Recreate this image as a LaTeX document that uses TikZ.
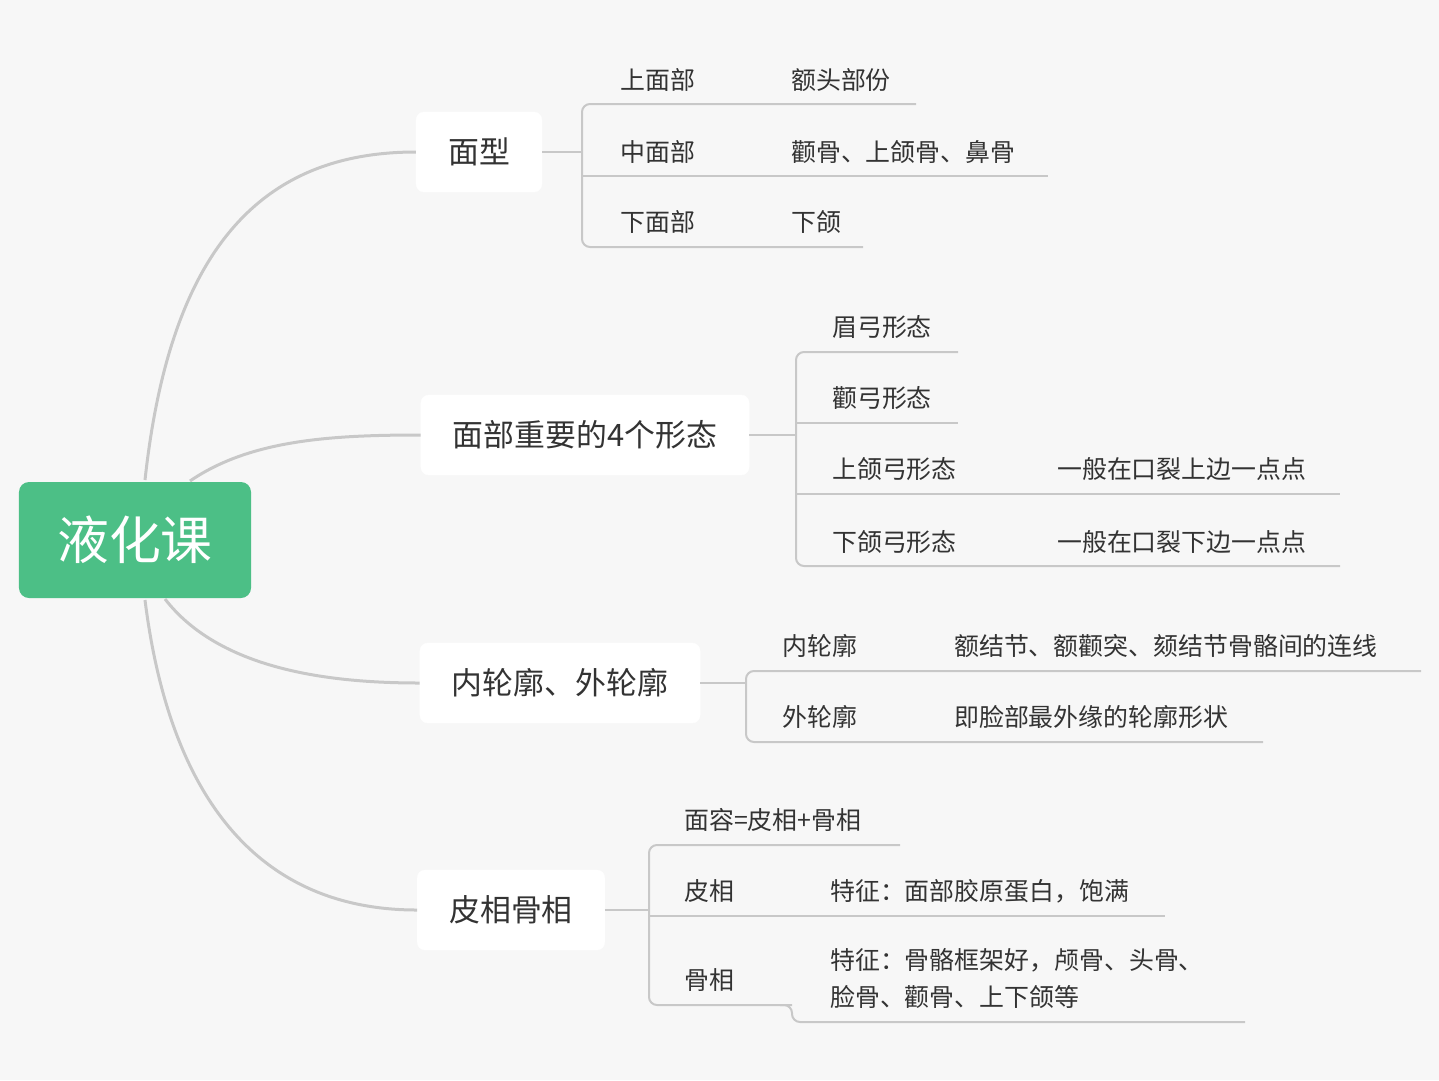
\documentclass[tikz,border=0pt]{standalone}
\usepackage{fontspec}
\newfontfamily\cjk{Noto Sans CJK SC}
\definecolor{bg}{HTML}{F7F7F7}
\definecolor{ln}{HTML}{C8C8C8}
\definecolor{tx}{HTML}{333333}
\definecolor{gr}{HTML}{4CBF86}
\begin{document}
\begin{tikzpicture}[x=1bp,y=-1bp,
  lone/.style={draw=white,fill=white,rounded corners=8bp,minimum height=80bp,inner xsep=32bp,font=\cjk\fontsize{31}{36}\selectfont,text=tx},
  lt/.style={anchor=west,inner sep=0,font=\cjk\fontsize{25}{36}\selectfont,text=tx},
  br/.style={draw=ln,line width=2bp,rounded corners=8bp},
  cv/.style={draw=ln,line width=3bp}]
\fill[bg] (0,0) rectangle (1439,1080);
\node[fill=gr,rounded corners=10bp,minimum width=232bp,minimum height=116bp,text=white,font=\cjk\fontsize{52}{60}\selectfont] (root) at (135,540) {液化课};
\node[lone] (a) at (479,152) {面型};
\node[lone] (b) at (585,435) {面部重要的4个形态};
\node[lone] (c) at (560,683) {内轮廓、外轮廓};
\node[lone] (d) at (511,910) {皮相骨相};
% curves
\draw[cv] (145,480) .. controls (170,250) and (260,152) .. (a.west);
\draw[cv] (190,481) .. controls (250,440) and (330,435) .. (b.west);
\draw[cv] (165,599) .. controls (220,670) and (330,683) .. (c.west);
\draw[cv] (145,600) .. controls (170,800) and (260,910) .. (d.west);
% group 1
\draw[br] (a.east) -- (582,152);
\draw[br] (916,104) -- (582,104) -- (582,247) -- (863,247);
\draw[br] (582,176) -- (1048,176);
\node[lt] (a1) at (620,80) {上面部}; \node[lt] (a1b) at (791,80) {额头部份};
\node[lt] (a2) at (620,152) {中面部}; \node[lt] (a2b) at (791,152) {颧骨、上颌骨、鼻骨};
\node[lt] (a3) at (620,222) {下面部}; \node[lt] (a3b) at (791,222) {下颌};
% group 2
\draw[br] (b.east) -- (796,435);
\draw[br] (958,352) -- (796,352) -- (796,566) -- (1340,566);
\draw[br] (796,423) -- (958,423);
\draw[br] (796,494) -- (1340,494);
\node[lt] (b1) at (832,327) {眉弓形态};
\node[lt] (b2) at (832,398) {颧弓形态};
\node[lt] (b3) at (832,469) {上颌弓形态}; \node[lt] (b3b) at (1057,469) {一般在口裂上边一点点};
\node[lt] (b4) at (832,542) {下颌弓形态}; \node[lt] (b4b) at (1057,542) {一般在口裂下边一点点};
% group 3
\draw[br] (c.east) -- (746,683);
\draw[br] (1421,671) -- (746,671) -- (746,742) -- (1263,742);
\node[lt] (c1) at (782,646) {内轮廓}; \node[lt] (c1b) at (954,646) {额结节、额颧突、颏结节骨骼间的连线};
\node[lt] (c2) at (782,717) {外轮廓}; \node[lt] (c2b) at (954,717) {即脸部最外缘的轮廓形状};
% group 4
\draw[br] (d.east) -- (649,910);
\draw[br] (900,845) -- (649,845) -- (649,1005) -- (792,1005);
\draw[br] (649,916) -- (1165,916);
\draw[br] (780,1005) -- (792,1005) -- (792,1022) -- (1245,1022);
\node[lt] (d1) at (684,820) {面容=皮相+骨相};
\node[lt] (d2) at (684,891) {皮相}; \node[lt] (d2b) at (830,891) {特征：面部胶原蛋白，饱满};
\node[lt] (d3) at (684,980) {骨相};
\node[lt] (d3b) at (830,960) {特征：骨骼框架好，颅骨、头骨、};
\node[lt] (d3c) at (830,997) {脸骨、颧骨、上下颌等};
\end{tikzpicture}
\end{document}
